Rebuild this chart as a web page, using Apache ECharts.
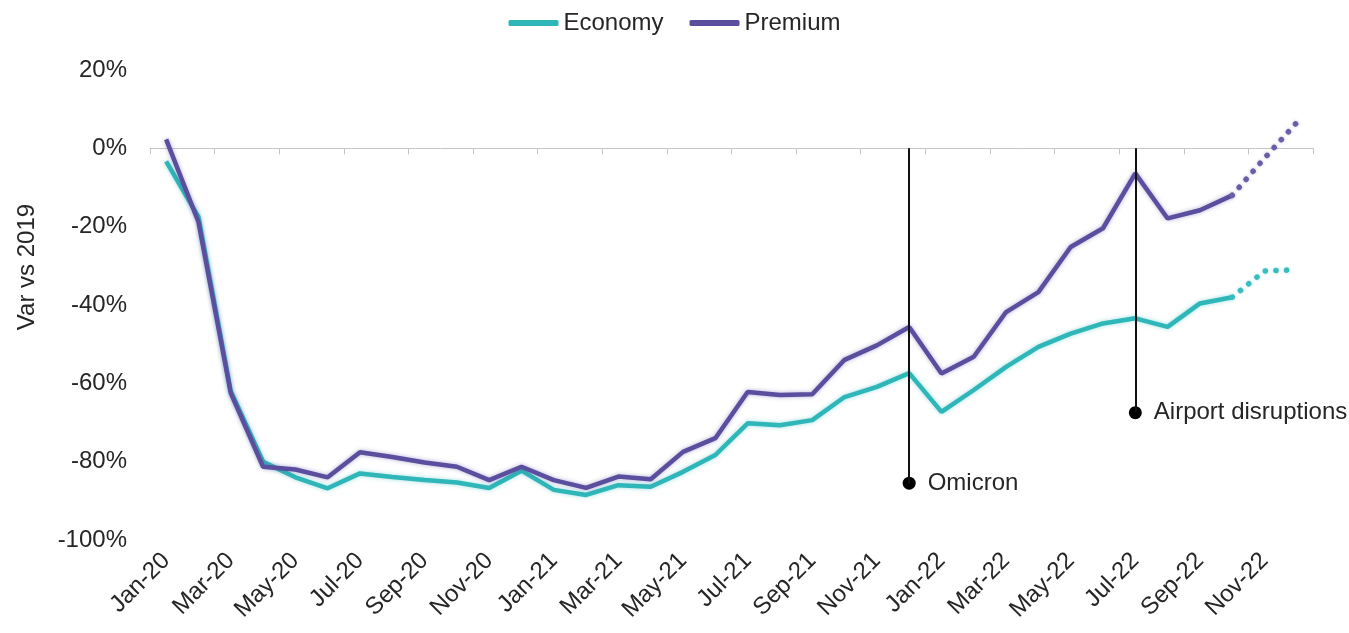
<!DOCTYPE html>
<html>
<head>
<meta charset="utf-8">
<script src="https://cdn.jsdelivr.net/npm/echarts@6/dist/echarts.min.js"></script>
<style>
html,body{margin:0;padding:0;background:#fff;}
#chart{width:1349px;height:633px;}
</style>
</head>
<body>
<div id="chart"></div>
<script>
var categories = ['Jan-20','Feb-20','Mar-20','Apr-20','May-20','Jun-20','Jul-20','Aug-20','Sep-20','Oct-20','Nov-20','Dec-20',
  'Jan-21','Feb-21','Mar-21','Apr-21','May-21','Jun-21','Jul-21','Aug-21','Sep-21','Oct-21','Nov-21','Dec-21',
  'Jan-22','Feb-22','Mar-22','Apr-22','May-22','Jun-22','Jul-22','Aug-22','Sep-22','Oct-22','Nov-22','Dec-22'];

var economyActual = [-3.3,-17.5,-62,-80,-84,-86.8,-83,-83.9,-84.7,-85.3,-86.7,-82.3,
  -87.2,-88.5,-86,-86.4,-82.6,-78.3,-70.2,-70.7,-69.4,-63.5,-60.9,-57.4,
  -67.3,-61.7,-55.8,-50.7,-47.3,-44.7,-43.4,-45.6,-39.6,-38];
var premiumActual = [2.3,-18.8,-62.5,-81.3,-82,-84,-77.6,-78.8,-80.2,-81.3,-84.7,-81.3,
  -84.7,-86.7,-83.8,-84.5,-77.5,-74,-62.2,-63,-62.8,-54,-50.3,-45.6,
  -57.5,-53.2,-41.8,-36.7,-25.2,-20.4,-6.4,-17.9,-15.8,-12];
var economyForecast = [-31.3,-31];
var premiumForecast = [-2.5,6.6];

var annotationNames = ['Omicron','Airport disruptions'];
var annotationMonths = ['Dec-21','Jul-22'];
var annotationValues = [-85.5,-67.5];

var yTicks = {min:-100, max:20, interval:20};

function forecastSeries(actual, forecast){
  var out = [];
  for (var i = 0; i < actual.length - 1; i++) out.push(null);
  out.push(actual[actual.length - 1]);
  return out.concat(forecast);
}

var TEAL = '#2fb6b8';
var PURPLE = '#5a4e9e';
var TEXT = '#262626';
var FONT = 'Liberation Sans, Arial, sans-serif';

var markLineData = [];
var scatterData = [];
for (var k = 0; k < annotationNames.length; k++) {
  markLineData.push([{coord:[annotationMonths[k], 0]}, {coord:[annotationMonths[k], annotationValues[k]]}]);
  scatterData.push({name: annotationNames[k], value:[annotationMonths[k], annotationValues[k]]});
}

var chart = echarts.init(document.getElementById('chart'), null, {renderer:'canvas'});
chart.setOption({
  animation:false,
  textStyle:{fontFamily:FONT, color:TEXT},
  legend:{
    data:['Economy','Premium'],
    top:6, left:'center',
    icon:'roundRect', itemWidth:50, itemHeight:6, itemGap:26,
    textStyle:{fontSize:24, color:TEXT, fontFamily:FONT}
  },
  grid:{left:150, right:36, top:70, bottom:93, containLabel:false},
  xAxis:[{
    type:'category', data:categories, boundaryGap:true,
    axisLine:{show:false, onZero:false},
    axisTick:{show:false},
    axisLabel:{interval:1, rotate:45, fontSize:24, color:TEXT, fontFamily:FONT, margin:17}
  },{
    type:'category', data:categories, boundaryGap:true, position:'bottom',
    axisLine:{show:true, onZero:true, lineStyle:{color:'#c4c4c4', width:1}},
    axisTick:{show:true, interval:1, length:6, lineStyle:{color:'#c4c4c4'}},
    axisLabel:{show:false}
  }],
  yAxis:{
    type:'value', min:yTicks.min, max:yTicks.max, interval:yTicks.interval,
    axisLine:{show:false}, axisTick:{show:false}, splitLine:{show:false},
    axisLabel:{formatter:'{value}%', fontSize:24, color:TEXT, fontFamily:FONT, margin:23},
    name:'Var vs 2019', nameLocation:'middle', nameGap:111,
    nameTextStyle:{fontSize:24, color:TEXT, fontFamily:FONT, padding:[0,0,0,76]}
  },
  series:[
    {name:'Economy', type:'line', xAxisIndex:0, data:economyActual, symbol:'none', z:3,
     lineStyle:{color:TEAL, width:4.5, shadowColor:'rgba(47,182,184,0.45)', shadowBlur:4}, itemStyle:{color:TEAL}},
    {name:'Premium', type:'line', xAxisIndex:0, data:premiumActual, symbol:'none', z:3,
     lineStyle:{color:PURPLE, width:4.5, shadowColor:'rgba(90,78,158,0.45)', shadowBlur:4}, itemStyle:{color:PURPLE}},
    {name:'Economy forecast', type:'line', xAxisIndex:0, data:forecastSeries(economyActual, economyForecast), symbol:'none', z:3,
     lineStyle:{color:'#3bbcbc', width:5.5, type:[0.1,10.5], cap:'round', shadowColor:'rgba(47,182,184,0.4)', shadowBlur:3}},
    {name:'Premium forecast', type:'line', xAxisIndex:0, data:forecastSeries(premiumActual, premiumForecast), symbol:'none', z:3,
     lineStyle:{color:'#6a5ea6', width:5.5, type:[0.1,10.5], cap:'round', shadowColor:'rgba(90,78,158,0.4)', shadowBlur:3}},
    {name:'Annotations', type:'scatter', xAxisIndex:0, data:scatterData, symbol:'circle', symbolSize:13, z:4,
     itemStyle:{color:'#000', opacity:1},
     label:{show:true, position:'right', distance:12, formatter:'{b}', fontSize:24, color:TEXT, fontFamily:FONT},
     markLine:{silent:true, symbol:['none','none'], label:{show:false},
       lineStyle:{color:'#111', width:2, type:'solid', opacity:1}, data:markLineData}}
  ]
});
</script>
</body>
</html>
